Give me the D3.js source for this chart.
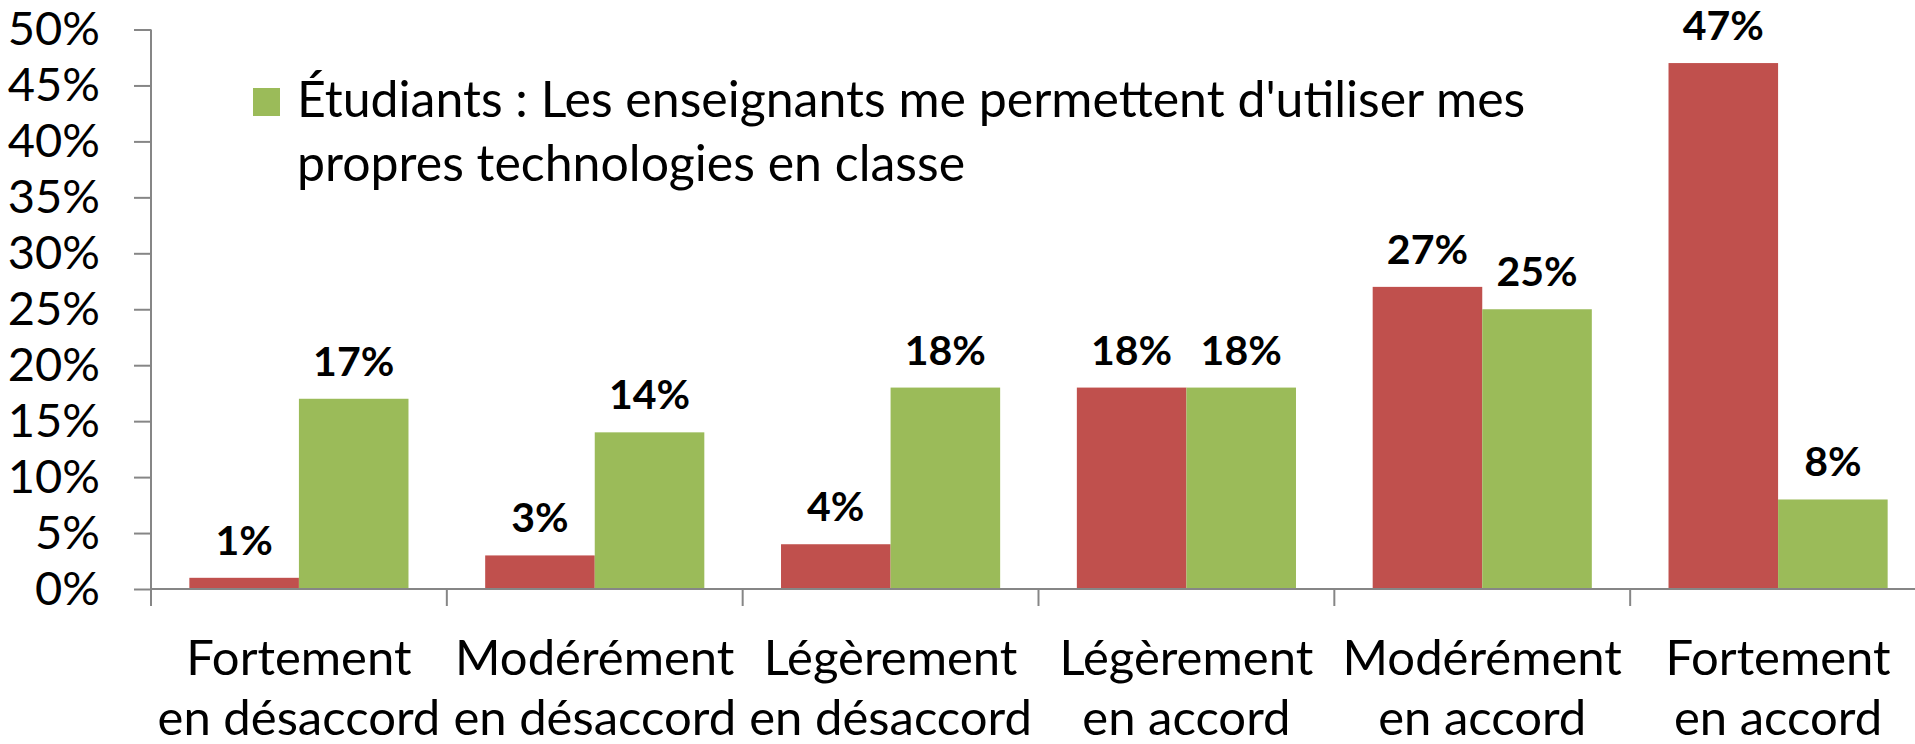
<!DOCTYPE html>
<html>
<head>
<meta charset="utf-8">
<script src="https://cdn.jsdelivr.net/npm/d3@7"></script>
<style>
  html, body { margin: 0; padding: 0; background: #fff; overflow: hidden; }
  svg { display: block; font-family: Lato, "Open Sans", sans-serif; }
</style>
</head>
<body>
<div id="chart"></div>
<script>
// categories (two-line labels)
const categories = [
    ["Fortement", "en désaccord"],
    ["Modérément", "en désaccord"],
    ["Légèrement", "en désaccord"],
    ["Légèrement", "en accord"],
    ["Modérément", "en accord"],
    ["Fortement", "en accord"]
];
const redValues = [0.01, 0.03, 0.04, 0.18, 0.27, 0.47];
const greenValues = [0.17, 0.14, 0.18, 0.18, 0.25, 0.08];
const yTicks = [0, 0.05, 0.10, 0.15, 0.20, 0.25, 0.30, 0.35, 0.40, 0.45, 0.50];
const legendLines = ["Étudiants : Les enseignants me permettent d'utiliser mes", "propres technologies en classe"];

const colors = ["#C0504D", "#9BBB59"];

const width = 1915, height = 744;
// plot runs a little past the right edge, as in the original
const margin = { left: 151, top: 29.5, bottom: 155, right: -11 };

const svg = d3.select("#chart").append("svg")
    .attr("width", width)
    .attr("height", height);

const x0 = d3.scaleBand()
    .domain(d3.range(categories.length))
    .range([margin.left, width - margin.right]);

const x1 = d3.scaleBand()
    .domain([0, 1])
    .range([0, x0.bandwidth()])
    .paddingOuter(0.35)
    .paddingInner(0);

const y = d3.scaleLinear()
    .domain([0, 0.5])
    .range([height - margin.bottom, margin.top]);

const rows = categories.map((c, i) => ({ i, values: [redValues[i], greenValues[i]] }));

// bars
const groups = svg.append("g")
    .selectAll("g")
    .data(rows)
    .join("g")
    .attr("transform", d => `translate(${x0(d.i)},0)`);

groups.selectAll("rect")
    .data(d => d.values.map((v, s) => ({ v, s })))
    .join("rect")
    .attr("x", d => x1(d.s))
    .attr("width", x1.bandwidth())
    .attr("y", d => y(d.v))
    .attr("height", d => y(0) - y(d.v))
    .attr("fill", d => colors[d.s]);

// value labels
groups.selectAll("text")
    .data(d => d.values.map((v, s) => ({ v, s })))
    .join("text")
    .attr("x", d => x1(d.s) + x1.bandwidth() / 2)
    .attr("y", d => y(d.v) - 23)
    .attr("text-anchor", "middle")
    .attr("font-weight", "bold")
    .attr("font-size", 41)
    .attr("fill", "#000")
    .text(d => d3.format(".0%")(d.v));

// y axis
const yAxis = svg.append("g")
    .attr("transform", `translate(${margin.left},0)`)
    .call(d3.axisLeft(y).tickValues(yTicks).tickFormat(d3.format(".0%")).tickSize(17).tickPadding(34));
yAxis.select(".domain").attr("d", `M0,${y(0.5)}V${y(0) + 17}`);
yAxis.selectAll("line, .domain").attr("stroke", "#868686").attr("stroke-width", 2);
yAxis.selectAll("text")
    .attr("font-family", "Lato, sans-serif")
    .attr("font-size", 47)
    .attr("fill", "#000");

// x axis with ticks at category boundaries
const xAxisG = svg.append("g")
    .attr("transform", `translate(0,${y(0)})`);
xAxisG.append("line")
    .attr("x1", margin.left).attr("x2", width)
    .attr("stroke", "#868686").attr("stroke-width", 2);
xAxisG.selectAll(".tick")
    .data(d3.range(1, categories.length))
    .join("line")
    .attr("class", "tick")
    .attr("x1", d => x0(d)).attr("x2", d => x0(d))
    .attr("y1", 0).attr("y2", 17)
    .attr("stroke", "#868686").attr("stroke-width", 2);

// category labels
const catLabels = svg.append("g")
    .selectAll("text")
    .data(rows)
    .join("text")
    .attr("x", d => x0(d.i) + x0.bandwidth() / 2)
    .attr("y", 675)
    .attr("text-anchor", "middle")
    .attr("font-size", 49)
    .attr("fill", "#000");
catLabels.selectAll("tspan")
    .data(d => categories[d.i])
    .join("tspan")
    .attr("x", function() { return this.parentNode.getAttribute("x"); })
    .attr("dy", (d, k) => k === 0 ? 0 : 60)
    .text(d => d);

// legend (only the student series is shown)
const legend = svg.append("g");
legend.append("rect")
    .attr("x", 253).attr("y", 88)
    .attr("width", 27).attr("height", 28)
    .attr("fill", colors[1]);
legend.append("text")
    .attr("x", 297)
    .attr("y", 117)
    .attr("font-size", 50)
    .attr("fill", "#000")
    .selectAll("tspan")
    .data(legendLines)
    .join("tspan")
    .attr("x", 297)
    .attr("dy", (d, k) => k === 0 ? 0 : 64)
    .text(d => d);
</script>
</body>
</html>
